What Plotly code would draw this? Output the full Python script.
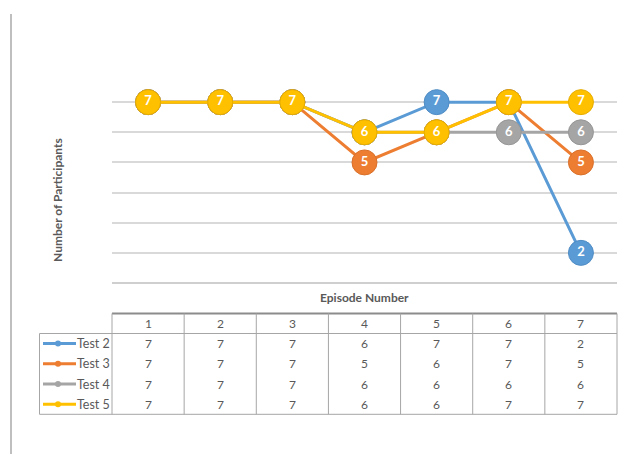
import plotly.graph_objects as go

W, H = 621, 454
episodes = [1, 2, 3, 4, 5, 6, 7]
series_names = ["Test 2", "Test 3", "Test 4", "Test 5"]
test2 = [7, 7, 7, 6, 7, 7, 2]
test3 = [7, 7, 7, 5, 6, 7, 5]
test4 = [7, 7, 7, 6, 6, 6, 6]
test5 = [7, 7, 7, 6, 6, 7, 7]
series_values = [test2, test3, test4, test5]
colors = ["#5B9BD5", "#ED7D31", "#A5A5A5", "#FFC000"]
border_colors = ["#4f8cc4", "#d9702a", "#969696", "#e6ad00"]
x_title = "Episode Number"
y_title = "Number of Participants"

FONT = "Lato, 'Open Sans', sans-serif"
TXT = "#595959"

# pixel geometry helpers (paper coords = pixels since margins are 0)
PL, PR, PT, PB = 112, 617, 72, 283
def px(x):
    return x / W
def py(y):
    return 1 - y / H

fig = go.Figure()
for name, vals, c, bc in zip(series_names, series_values, colors, border_colors):
    fig.add_trace(go.Scatter(
        x=episodes, y=vals, name=name, mode="lines+markers+text",
        line=dict(color=c, width=3),
        marker=dict(size=25, color=c, line=dict(color=bc, width=1)),
        text=[str(v) for v in vals], textposition="middle center",
        textfont=dict(family=FONT, size=13, color="white", weight="bold"),
        cliponaxis=False, showlegend=False,
    ))

shapes = []
annotations = []

# outer page vertical line
shapes.append(dict(type="line", xref="paper", yref="paper", x0=px(11), x1=px(11),
                   y0=py(14), y1=py(454), line=dict(color="#BFBFBF", width=2)))

# axis line at bottom of plot
shapes.append(dict(type="line", xref="paper", yref="paper", x0=px(PL), x1=px(PR),
                   y0=py(PB), y1=py(PB), line=dict(color="#BFBFBF", width=1.5)))

# data table geometry
TL = 39.5
ncol = len(episodes)
col_w = (PR - PL) / ncol
T_TOP = 313.5
HDR_B = 333.5
row_h = 20.2
T_BOT = HDR_B + row_h * len(series_names)
grid_c = "#A6A6A6"

shapes.append(dict(type="line", xref="paper", yref="paper", x0=px(PL), x1=px(PR),
                   y0=py(T_TOP), y1=py(T_TOP), line=dict(color="#8C8C8C", width=2)))
shapes.append(dict(type="line", xref="paper", yref="paper", x0=px(TL), x1=px(PR),
                   y0=py(HDR_B), y1=py(HDR_B), line=dict(color=grid_c, width=1)))
shapes.append(dict(type="line", xref="paper", yref="paper", x0=px(TL), x1=px(PR),
                   y0=py(T_BOT), y1=py(T_BOT), line=dict(color=grid_c, width=1)))
shapes.append(dict(type="line", xref="paper", yref="paper", x0=px(TL), x1=px(TL),
                   y0=py(HDR_B), y1=py(T_BOT), line=dict(color=grid_c, width=1)))
for i in range(ncol + 1):
    xx = PL + i * col_w
    shapes.append(dict(type="line", xref="paper", yref="paper", x0=px(xx), x1=px(xx),
                       y0=py(T_TOP), y1=py(T_BOT), line=dict(color=grid_c, width=1)))

for i, e in enumerate(episodes):
    annotations.append(dict(xref="paper", yref="paper", x=px(PL + (i + 0.5) * col_w),
                            y=py((T_TOP + HDR_B) / 2), text=str(e), showarrow=False,
                            font=dict(family=FONT, size=12, color=TXT),
                            xanchor="center", yanchor="middle"))

for r, (name, vals, c) in enumerate(zip(series_names, series_values, colors)):
    yc = HDR_B + (r + 0.5) * row_h
    shapes.append(dict(type="line", xref="paper", yref="paper", x0=px(43), x1=px(76),
                       y0=py(yc), y1=py(yc), line=dict(color=c, width=3)))
    shapes.append(dict(type="circle", xref="paper", yref="paper", x0=px(55), x1=px(61),
                       y0=py(yc + 3), y1=py(yc - 3), fillcolor=c, line=dict(color=c, width=0)))
    annotations.append(dict(xref="paper", yref="paper", x=px(75), y=py(yc), text=name,
                            showarrow=False, font=dict(family=FONT, size=12.5, color=TXT),
                            xanchor="left", yanchor="middle"))
    for i, v in enumerate(vals):
        annotations.append(dict(xref="paper", yref="paper", x=px(PL + (i + 0.5) * col_w),
                                y=py(yc), text=str(v), showarrow=False,
                                font=dict(family=FONT, size=12, color=TXT),
                                xanchor="center", yanchor="middle"))

annotations.append(dict(xref="paper", yref="paper", x=px((PL + PR) / 2), y=py(297),
                        text=x_title, showarrow=False,
                        font=dict(family=FONT, size=12, color=TXT, weight="bold"),
                        xanchor="center", yanchor="middle"))
annotations.append(dict(xref="paper", yref="paper", x=px(57), y=py(200),
                        text=y_title, showarrow=False, textangle=-90,
                        font=dict(family=FONT, size=12, color=TXT, weight="bold"),
                        xanchor="center", yanchor="middle"))

fig.update_layout(
    width=W, height=H,
    margin=dict(l=0, r=0, t=0, b=0, autoexpand=False),
    paper_bgcolor="white", plot_bgcolor="white",
    xaxis=dict(domain=[PL / W, PR / W], range=[0.5, 7.5], showgrid=False,
               showticklabels=False, ticks="", zeroline=False, showline=False,
               fixedrange=True),
    yaxis=dict(domain=[1 - PB / H, 1 - PT / H], range=[1, 8], dtick=1, tick0=1,
               showgrid=True, gridcolor="#D9D9D9", gridwidth=1.5,
               showticklabels=False, ticks="", zeroline=False, showline=False,
               fixedrange=True),
    shapes=shapes, annotations=annotations, showlegend=False,
)

fig.write_html("out.html", config={"displayModeBar": False},
               post_script="document.body.style.margin='0';document.body.style.overflow='hidden';")
